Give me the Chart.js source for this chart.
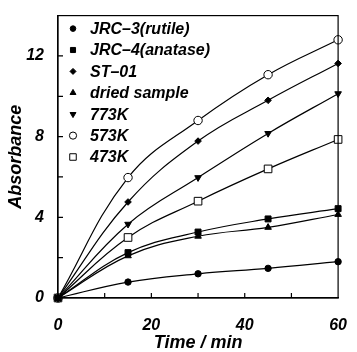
<!DOCTYPE html>
<html>
<head>
<meta charset="utf-8">
<script src="https://cdn.jsdelivr.net/npm/chart.js@4/dist/chart.umd.min.js"></script>
<style>
  html, body { margin: 0; padding: 0; background: #fff; }
  #wrap { width: 357px; height: 352px; }
</style>
</head>
<body>
<div id="wrap"><canvas id="chart"></canvas></div>
<script>
// sampling times (min)
const times = [0, 15, 30, 45, 60];

// absorbance values
const jrc3 = [0, 0.79, 1.2, 1.47, 1.8];
const jrc4 = [0, 2.25, 3.27, 3.92, 4.43];
const st01 = [0, 4.76, 7.78, 9.8, 11.63];
const dried = [0, 2.09, 3.06, 3.5, 4.14];
const k773 = [0, 3.66, 5.97, 8.16, 10.13];
const k573 = [0, 5.97, 8.8, 11.07, 12.8];
const k473 = [0, 3.0, 4.8, 6.4, 7.86];

const seriesNames = ['JRC\u20133(rutile)', 'JRC\u20134(anatase)', 'ST\u201301', 'dried sample', '773K', '573K', '473K'];

const xTickLabels = [0, 20, 40, 60];
const yTickLabels = [0, 4, 8, 12];

const FONT = '"Liberation Sans", Arial, Helvetica, sans-serif';

function pts(values) {
    return values.map((v, i) => ({ x: times[i], y: v }));
}

function makeSet(label, values, style, radius, filled, rotation) {
    return {
        label: label,
        data: pts(values),
        borderColor: '#000',
        borderWidth: 1.2,
        pointStyle: style,
        pointRadius: radius,
        pointRotation: rotation || 0,
        pointBackgroundColor: filled ? '#000' : '#fff',
        pointBorderColor: '#000',
        pointBorderWidth: 1,
        tension: 0.4,
        fill: false,
        clip: false
    };
}

const datasets = [
    makeSet(seriesNames[0], jrc3, 'circle', 3.2, true),
    makeSet(seriesNames[1], jrc4, 'rect', 4.2, true),
    makeSet(seriesNames[2], st01, 'rectRot', 3.3, true),
    makeSet(seriesNames[3], dried, 'triangle', 3.8, true),
    makeSet(seriesNames[4], k773, 'triangle', 3.8, true, 180),
    makeSet(seriesNames[5], k573, 'circle', 4.2, false),
    makeSet(seriesNames[6], k473, 'rect', 5.4, false)
];

// inward tick marks plus the top/right frame
const framePlugin = {
    id: 'frame',
    afterDraw(chart) {
        const ctx = chart.ctx;
        const a = chart.chartArea;
        const xs = chart.scales.x, ys = chart.scales.y;
        ctx.save();
        ctx.strokeStyle = '#000';
        ctx.lineWidth = 1.2;
        ctx.strokeRect(a.left, a.top, a.right - a.left, a.bottom - a.top);
        ctx.beginPath();
        for (let v = 10; v < 60; v += 10) {
            const px = xs.getPixelForValue(v);
            ctx.moveTo(px, a.bottom);
            ctx.lineTo(px, a.bottom - 5);
        }
        for (let v = 2; v < 14; v += 2) {
            const py = ys.getPixelForValue(v);
            ctx.moveTo(a.left, py);
            ctx.lineTo(a.left + 5, py);
        }
        ctx.stroke();
        ctx.restore();
    }
};

// legend sitting inside the plot, top-left
const insideLegend = {
    id: 'insideLegend',
    afterDraw(chart) {
        const ctx = chart.ctx;
        const a = chart.chartArea;
        const legendRadius = [2.8, 3.6, 3, 3.4, 3.4, 3.6, 4.6];
        ctx.save();
        ctx.font = 'italic bold 16px ' + FONT;
        ctx.textBaseline = 'middle';
        ctx.fillStyle = '#000';
        chart.data.datasets.forEach((ds, i) => {
            const y = a.top + 13 + i * 21.4;
            const x = a.left + 15;
            ctx.fillStyle = ds.pointBackgroundColor;
            ctx.strokeStyle = '#000';
            ctx.lineWidth = 1;
            Chart.helpers.drawPoint(ctx, {
                pointStyle: ds.pointStyle,
                radius: legendRadius[i],
                rotation: ds.pointRotation,
                borderWidth: 1
            }, x, y);
            ctx.fillStyle = '#000';
            ctx.fillText(ds.label, a.left + 32, y + 1);
        });
        ctx.restore();
    }
};

new Chart(document.getElementById('chart'), {
    type: 'line',
    data: { datasets: datasets },
    plugins: [framePlugin, insideLegend],
    options: {
        responsive: true,
        maintainAspectRatio: false,
        animation: false,
        layout: { padding: { top: 10, right: 10, left: 0, bottom: 0 } },
        plugins: {
            legend: { display: false },
            tooltip: { enabled: false }
        },
        scales: {
            x: {
                type: 'linear',
                min: 0,
                max: 60,
                grid: { display: false },
                border: { display: true, color: '#000', width: 1.2 },
                afterFit(scale) { scale.height = 54; },
                ticks: {
                    stepSize: 20,
                    padding: 10,
                    maxRotation: 0,
                    color: '#000',
                    font: { family: FONT, size: 16, style: 'italic', weight: 'bold' },
                    callback: v => xTickLabels.includes(v) ? String(v) : ''
                },
                title: {
                    display: true,
                    text: 'Time / min',
                    color: '#000',
                    padding: { top: 0, bottom: 0 },
                    font: { family: FONT, size: 18, style: 'italic', weight: 'bold', lineHeight: 1 }
                }
            },
            y: {
                min: 0,
                max: 14,
                grid: { display: false },
                border: { display: true, color: '#000', width: 1.2 },
                afterFit(scale) { scale.width = 58; },
                ticks: {
                    stepSize: 4,
                    padding: 6,
                    color: '#000',
                    font: { family: FONT, size: 16, style: 'italic', weight: 'bold' },
                    callback: v => yTickLabels.includes(v) ? String(v) : ''
                },
                title: {
                    display: true,
                    text: 'Absorbance',
                    color: '#000',
                    padding: { top: 7, bottom: 0 },
                    font: { family: FONT, size: 18, style: 'italic', weight: 'bold', lineHeight: 1 }
                }
            }
        }
    }
});
</script>
</body>
</html>
